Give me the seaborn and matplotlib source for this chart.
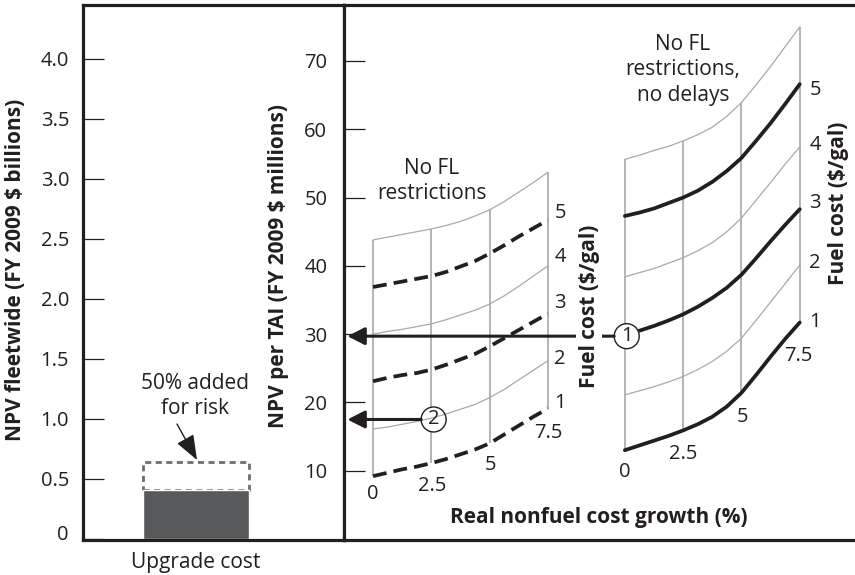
import matplotlib
matplotlib.use("Agg")
from matplotlib.patches import FancyArrowPatch
import matplotlib.pyplot as plt
import pandas as pd
import seaborn as sns

# left panel
bar_categories = ["Upgrade cost"]
upgrade_cost = [0.41]
risk_added = [0.23]
left_ticks = [0, 0.5, 1.0, 1.5, 2.0, 2.5, 3.0, 3.5, 4.0]
left_tick_labels = ["", "0.5", "1.0", "1.5", "2.0", "2.5", "3.0", "3.5", "4.0"]

# right panel, NPV per TAI
right_ticks = [10, 20, 30, 40, 50, 60, 70]
growth = [0, 0.625, 1.25, 1.875, 2.5, 3.125, 3.75, 4.375, 5, 5.625, 6.25, 6.875, 7.5]
grid_growth = [0, 2.5, 5, 7.5]

restr_top = [43.8, 44.2, 44.6, 45.0, 45.4, 45.9, 46.5, 47.3, 48.2, 49.4, 50.8, 52.2, 53.7]
restr_5 = [36.9, 37.3, 37.7, 38.1, 38.5, 39.1, 39.9, 40.7, 41.8, 43.0, 44.3, 45.5, 46.7]
restr_4 = [30.0, 30.4, 30.7, 31.1, 31.5, 32.1, 32.8, 33.5, 34.4, 35.6, 37.0, 38.5, 40.0]
restr_3 = [23.1, 23.6, 24.0, 24.3, 24.8, 25.5, 26.3, 27.1, 28.2, 29.4, 30.6, 31.8, 33.0]
restr_2 = [16.1, 16.4, 16.8, 17.2, 17.7, 18.3, 19.0, 19.7, 20.7, 21.9, 23.3, 24.7, 26.1]
restr_1 = [9.2, 9.7, 10.2, 10.6, 11.1, 11.7, 12.4, 13.1, 14.0, 15.3, 16.6, 17.9, 19.1]

delay_top = [55.6, 56.2, 56.9, 57.5, 58.3, 59.2, 60.3, 61.9, 63.9, 66.5, 69.2, 72.1, 75.0]
delay_5 = [47.3, 47.8, 48.4, 49.2, 50.0, 51.0, 52.3, 53.9, 55.8, 58.3, 60.9, 63.7, 66.6]
delay_4 = [38.4, 39.0, 39.6, 40.4, 41.2, 42.2, 43.4, 45.0, 47.0, 49.6, 52.2, 54.9, 57.4]
delay_3 = [29.9, 30.5, 31.2, 32.0, 32.9, 34.0, 35.3, 36.8, 38.7, 41.1, 43.6, 46.0, 48.3]
delay_2 = [21.1, 21.7, 22.3, 23.0, 23.8, 24.8, 26.0, 27.5, 29.4, 32.0, 34.7, 37.4, 40.1]
delay_1 = [13.0, 13.7, 14.4, 15.1, 15.9, 16.8, 17.9, 19.4, 21.4, 24.0, 26.7, 29.3, 31.7]

CARPET_SHIFT = 10.8  # second carpet sits further right on the same axis
DARK = "#231f20"
GREY = "#a7a9ac"
TEXT_SIZE = 15
NUM_SIZE = 14.5

sns.set_style("white")
plt.rcParams["font.family"] = ["Open Sans", "DejaVu Sans"]
plt.rcParams["text.color"] = DARK

W, H = 855, 575
fig = plt.figure(figsize=(W / 100, H / 100), dpi=100)


def panel(x0, x1, y_top, y_bottom):
    return fig.add_axes([x0 / W, 1 - y_bottom / H, (x1 - x0) / W, (y_bottom - y_top) / H])


def label(x, y, s, size=TEXT_SIZE, **kw):
    kw.setdefault("ha", "center")
    kw.setdefault("va", "center")
    return fig.text(x / W, 1 - y / H, s, fontsize=size, **kw)


ax_l = panel(83, 344, 5, 540)
ax_r = panel(344, 855, 5, 540)

# solid bar with the dashed risk box on top of it
sns.barplot(x=bar_categories, y=risk_added, ax=ax_l, fill=False, bottom=upgrade_cost,
            edgecolor="#6d6e71", linewidth=2, linestyle=(0, (2.2, 1.6)), width=0.8)
sns.barplot(x=bar_categories, y=upgrade_cost, ax=ax_l, color="#58595b",
            saturation=1, width=0.8)
ax_l.set_xlim(-0.853, 1.117)
ax_l.set_ylim(-0.01, 4.45)
ax_l.set_yticks(left_ticks)
ax_l.set_yticklabels(left_tick_labels, fontsize=NUM_SIZE, color=DARK)
ax_l.tick_params(axis="y", direction="in", length=15, width=0.9, color=DARK, pad=10, left=True)
ax_l.tick_params(axis="x", length=0, labelsize=TEXT_SIZE, labelcolor=DARK, pad=8.5)
ax_l.set_ylabel("")

carpets = [
    (0, "--", [restr_top, restr_5, restr_4, restr_3, restr_2, restr_1]),
    (CARPET_SHIFT, "-", [delay_top, delay_5, delay_4, delay_3, delay_2, delay_1]),
]
for shift, heavy_style, curves in carpets:
    xs = [g + shift for g in growth]
    for i, values in enumerate(curves):
        frame = pd.DataFrame({"x": xs, "npv": values})
        if i in (1, 3, 5):
            style = (0, (3.7, 1.9)) if heavy_style == "--" else "-"
            sns.lineplot(data=frame, x="x", y="npv", ax=ax_r, color=DARK, linewidth=2.7,
                         linestyle=style, zorder=2, estimator=None)
        else:
            sns.lineplot(data=frame, x="x", y="npv", ax=ax_r, color=GREY, linewidth=0.9,
                         zorder=4, estimator=None)
    # grid lines across the curves at the labelled growth rates
    for g in grid_growth:
        k = growth.index(g)
        ax_r.vlines(g + shift, curves[5][k], curves[0][k], color="#a0a0a0",
                    linewidth=1.1, zorder=1.5)

ax_r.set_xlim(-1.244, 20.67)
ax_r.set_ylim(-0.15, 78.2)
ax_r.set_xticks([])
ax_r.set_yticks(right_ticks)
ax_r.set_yticklabels([str(t) for t in right_ticks], fontsize=NUM_SIZE, color=DARK)
ax_r.tick_params(axis="y", direction="in", length=15, width=0.9, color=DARK, pad=12, left=True)
ax_r.set_xlabel("")
ax_r.set_ylabel("")

for ax in (ax_l, ax_r):
    for side in ax.spines:
        ax.spines[side].set_linewidth(2.3)
        ax.spines[side].set_color(DARK)
        ax.spines[side].set_zorder(10)
ax_r.spines["right"].set_visible(False)

# numbered read-offs
readoffs = [("1", CARPET_SHIFT + 0.08, 29.7), ("2", 2.6, 17.5)]
for num, rx, ry in readoffs:
    ax_r.annotate("", xy=(-1.1, ry), xytext=(rx, ry), zorder=5,
                  arrowprops=dict(arrowstyle="-|>,head_length=0.75,head_width=0.38",
                                  color=DARK, lw=2.2, shrinkA=9, shrinkB=0,
                                  mutation_scale=14))
    ax_r.scatter([rx], [ry], s=324, color="white", linewidths=0, zorder=3)
    ax_r.scatter([rx], [ry], s=324, facecolor="none", edgecolor=DARK, linewidths=1.0, zorder=6)
    ax_r.text(rx, ry, num, fontsize=NUM_SIZE, ha="center", va="center", zorder=7)

# risk note
label(195, 396, "50% added\nfor risk", linespacing=1.25)
fig.add_artist(FancyArrowPatch(
    (177 / W, 1 - 424 / H), (197 / W, 1 - 460 / H), transform=fig.transFigure,
    arrowstyle="-|>,head_length=1.1,head_width=0.42", mutation_scale=14,
    color=DARK, lw=1.0, shrinkA=0, shrinkB=0))

# axis titles
label(16, 270, "NPV fleetwide (FY 2009 $ billions)", rotation=90, fontweight="bold")
label(278, 266, "NPV per TAI (FY 2009 $ millions)", rotation=90, fontweight="bold")
label(599, 518, "Real nonfuel cost growth (%)", fontweight="bold")
label(589, 306, "Fuel cost ($/gal)", rotation=90, fontweight="bold",
      bbox=dict(facecolor="white", edgecolor="none", pad=1.5))
label(838, 203, "Fuel cost ($/gal)", rotation=90, fontweight="bold")

# carpet captions
label(432, 181, "No FL\nrestrictions", linespacing=1.25)
label(683, 70, "No FL\nrestrictions,\nno delays", linespacing=1.25)

# zero of the left axis sits a little above its tick
label(63, 535, "0", size=NUM_SIZE)

# fuel and growth labels on the carpets
for txt, y1, y2 in zip("54321", [213, 257, 303, 359, 403], [90, 145, 203, 263, 322]):
    label(560, y1, txt, size=NUM_SIZE)
    label(815, y2, txt, size=NUM_SIZE)
for txt, x1, y1, x2, y2 in zip(["0", "2.5", "5", "7.5"], [373, 432, 490, 548], [494, 486, 465, 433],
                               [625, 683, 742, 798], [472, 454, 417, 356]):
    label(x1, y1, txt, size=NUM_SIZE)
    label(x2, y2, txt, size=NUM_SIZE)

fig.savefig("out.png", dpi=100)
